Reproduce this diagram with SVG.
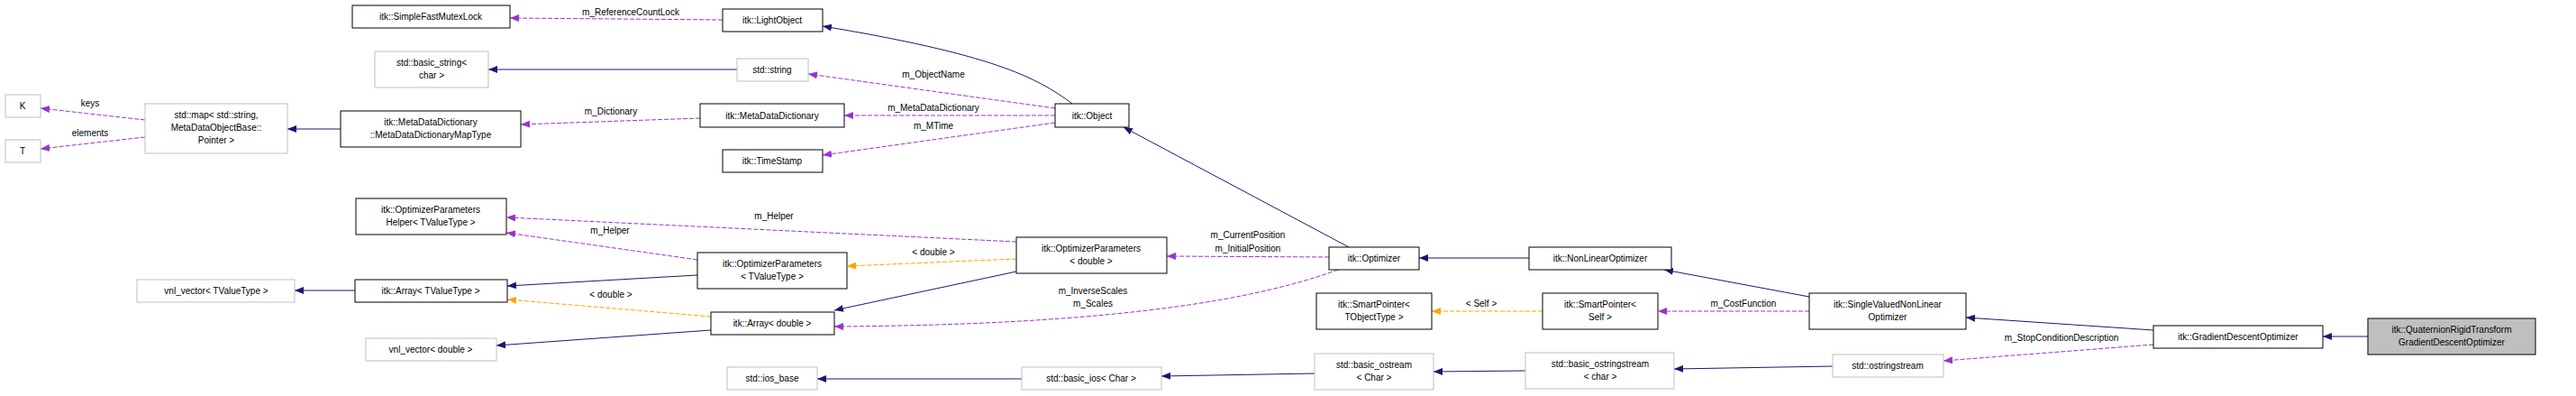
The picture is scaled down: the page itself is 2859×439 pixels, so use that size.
<svg xmlns="http://www.w3.org/2000/svg" width="2859" height="439" viewBox="0 0 2859 439">
<style>
text{font-family:"Liberation Sans",Arial,sans-serif;font-size:10px;fill:#000;text-anchor:middle}
.n rect{fill:#fff;stroke:#000;stroke-width:1}
.g rect{fill:#fff;stroke:#bfbfbf;stroke-width:1}
.q rect{fill:#bfbfbf;stroke:#000;stroke-width:1}
.b{fill:none;stroke:#191970;stroke-width:1;marker-end:url(#ab)}
.p{fill:none;stroke:#9a32cd;stroke-width:1;stroke-dasharray:5,2;marker-end:url(#ap)}
.o{fill:none;stroke:#ffa500;stroke-width:1;stroke-dasharray:5,2;marker-end:url(#ao)}
</style>
<defs>
<marker id="ab" markerWidth="11" markerHeight="8" refX="10" refY="4" orient="auto" markerUnits="userSpaceOnUse"><path d="M0,0L10,4L0,8z" fill="#191970"/></marker>
<marker id="ap" markerWidth="11" markerHeight="8" refX="10" refY="4" orient="auto" markerUnits="userSpaceOnUse"><path d="M0,0L10,4L0,8z" fill="#9a32cd"/></marker>
<marker id="ao" markerWidth="11" markerHeight="8" refX="10" refY="4" orient="auto" markerUnits="userSpaceOnUse"><path d="M0,0L10,4L0,8z" fill="#ffa500"/></marker>
</defs>
<rect width="2859" height="439" fill="#fff"/>
<g id="edges">
<path class="b" d="M1190,115C1150,85 1100,60 913,29"/>
<path class="p" d="M802,22L566,20"/><text x="700" y="17">m_ReferenceCountLock</text>
<path class="b" d="M818,77L542,77"/>
<path class="p" d="M1171,120L897,82"/><text x="1036" y="86">m_ObjectName</text>
<path class="p" d="M1171,128L937,128"/><text x="1036" y="123">m_MetaDataDictionary</text>
<path class="p" d="M1171,136L913,172"/><text x="1036" y="143">m_MTime</text>
<path class="p" d="M777,131L578,138"/><text x="678" y="127">m_Dictionary</text>
<path class="b" d="M378,143L319,143"/>
<path class="p" d="M161,133L45,120"/><text x="100" y="118">keys</text>
<path class="p" d="M161,152L45,165"/><text x="100" y="151">elements</text>
<path class="b" d="M1497,274L1247,141"/>
<path class="p" d="M1475,285L1295,284"/><text x="1385" y="264">m_CurrentPosition</text><text x="1385" y="279">m_InitialPosition</text>
<path class="p" d="M1485,299C1400,330 1250,360 926,362"/><text x="1213" y="326">m_InverseScales</text><text x="1213" y="340">m_Scales</text>
<path class="p" d="M1128,268L562,241"/><text x="859" y="243">m_Helper</text>
<path class="p" d="M774,288L562,258"/><text x="677" y="259">m_Helper</text>
<path class="o" d="M1128,287L940,295"/><text x="1036" y="283">&lt; double &gt;</text>
<path class="b" d="M774,305L563,317"/>
<path class="b" d="M1128,301L926,344"/>
<path class="o" d="M789,351L563,332"/><text x="678" y="330">&lt; double &gt;</text>
<path class="b" d="M394,322L327,322"/>
<path class="b" d="M789,366L551,383"/>
<path class="b" d="M1697,286L1575,286"/>
<path class="b" d="M2008,329L1847,299"/>
<path class="p" d="M2008,345L1840,345"/><text x="1935" y="340">m_CostFunction</text>
<path class="o" d="M1712,345L1589,345"/><text x="1644" y="340">&lt; Self &gt;</text>
<path class="b" d="M2390,366L2182,352"/>
<path class="b" d="M2628,373L2578,373"/>
<path class="p" d="M2390,382L2157,400"/><text x="2288" y="378">m_StopConditionDescription</text>
<path class="b" d="M2034,406L1858,409"/>
<path class="b" d="M1693,411L1591,412"/>
<path class="b" d="M1459,414L1289,417"/>
<path class="b" d="M1134,420L907,420"/>
</g>
<g id="n_mutex" class="n"><rect x="391" y="6" width="175" height="25"/><text x="478" y="22">itk::SimpleFastMutexLock</text></g>
<g id="n_bstring" class="g"><rect x="416" y="57" width="126" height="40"/><text x="479" y="73">std::basic_string&lt;</text><text x="479" y="87">char &gt;</text></g>
<g id="n_K" class="g"><rect x="6" y="105" width="39" height="25"/><text x="25" y="121">K</text></g>
<g id="n_T" class="g"><rect x="6" y="155" width="39" height="25"/><text x="25" y="171">T</text></g>
<g id="n_map" class="g"><rect x="161" y="115" width="158" height="55"/><text x="240" y="131">std::map&lt; std::string,</text><text x="240" y="145">MetaDataObjectBase::</text><text x="240" y="159">Pointer &gt;</text></g>
<g id="n_maptype" class="n"><rect x="378" y="123" width="200" height="40"/><text x="478" y="139">itk::MetaDataDictionary</text><text x="478" y="153">::MetaDataDictionaryMapType</text></g>
<g id="n_helper" class="n"><rect x="395" y="220" width="167" height="40"/><text x="478" y="236">itk::OptimizerParameters</text><text x="478" y="250">Helper&lt; TValueType &gt;</text></g>
<g id="n_vnlT" class="g"><rect x="152" y="310" width="175" height="25"/><text x="240" y="326">vnl_vector&lt; TValueType &gt;</text></g>
<g id="n_arrT" class="n"><rect x="394" y="310" width="169" height="25"/><text x="478" y="326">itk::Array&lt; TValueType &gt;</text></g>
<g id="n_vnld" class="g"><rect x="406" y="375" width="145" height="25"/><text x="478" y="391">vnl_vector&lt; double &gt;</text></g>
<g id="n_light" class="n"><rect x="802" y="10" width="111" height="25"/><text x="857" y="26">itk::LightObject</text></g>
<g id="n_string" class="g"><rect x="818" y="65" width="79" height="25"/><text x="857" y="81">std::string</text></g>
<g id="n_mdd" class="n"><rect x="777" y="115" width="160" height="26"/><text x="857" y="132">itk::MetaDataDictionary</text></g>
<g id="n_ts" class="n"><rect x="802" y="166" width="111" height="25"/><text x="857" y="182">itk::TimeStamp</text></g>
<g id="n_object" class="n"><rect x="1171" y="115" width="82" height="26"/><text x="1212" y="132">itk::Object</text></g>
<g id="n_opT" class="n"><rect x="774" y="280" width="166" height="40"/><text x="857" y="296">itk::OptimizerParameters</text><text x="857" y="310">&lt; TValueType &gt;</text></g>
<g id="n_opd" class="n"><rect x="1128" y="263" width="167" height="40"/><text x="1211" y="279">itk::OptimizerParameters</text><text x="1211" y="293">&lt; double &gt;</text></g>
<g id="n_arrd" class="n"><rect x="789" y="346" width="137" height="25"/><text x="857" y="362">itk::Array&lt; double &gt;</text></g>
<g id="n_iosbase" class="g"><rect x="807" y="407" width="100" height="25"/><text x="857" y="423">std::ios_base</text></g>
<g id="n_bios" class="g"><rect x="1134" y="407" width="155" height="25"/><text x="1211" y="423">std::basic_ios&lt; Char &gt;</text></g>
<g id="n_opt" class="n"><rect x="1475" y="274" width="100" height="25"/><text x="1525" y="290">itk::Optimizer</text></g>
<g id="n_nlo" class="n"><rect x="1697" y="274" width="158" height="25"/><text x="1776" y="290">itk::NonLinearOptimizer</text></g>
<g id="n_spT" class="n"><rect x="1461" y="325" width="128" height="40"/><text x="1525" y="341">itk::SmartPointer&lt;</text><text x="1525" y="355">TObjectType &gt;</text></g>
<g id="n_spS" class="n"><rect x="1712" y="325" width="128" height="40"/><text x="1776" y="341">itk::SmartPointer&lt;</text><text x="1776" y="355">Self &gt;</text></g>
<g id="n_svnlo" class="n"><rect x="2008" y="325" width="174" height="40"/><text x="2095" y="341">itk::SingleValuedNonLinear</text><text x="2095" y="355">Optimizer</text></g>
<g id="n_bos" class="g"><rect x="1459" y="392" width="132" height="40"/><text x="1525" y="408">std::basic_ostream</text><text x="1525" y="422">&lt; Char &gt;</text></g>
<g id="n_boss" class="g"><rect x="1693" y="391" width="165" height="40"/><text x="1776" y="407">std::basic_ostringstream</text><text x="1776" y="421">&lt; char &gt;</text></g>
<g id="n_oss" class="g"><rect x="2034" y="393" width="123" height="25"/><text x="2095" y="409">std::ostringstream</text></g>
<g id="n_gdo" class="n"><rect x="2390" y="361" width="188" height="25"/><text x="2484" y="377">itk::GradientDescentOptimizer</text></g>
<g id="n_quat" class="q"><rect x="2628" y="353" width="186" height="40"/><text x="2721" y="369">itk::QuaternionRigidTransform</text><text x="2721" y="383">GradientDescentOptimizer</text></g>
</svg>
